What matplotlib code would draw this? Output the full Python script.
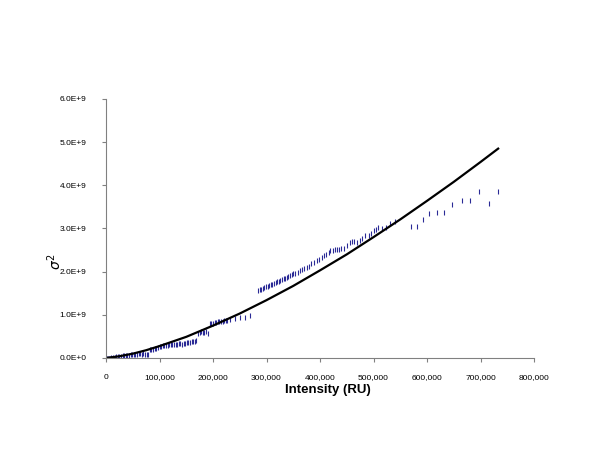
import matplotlib
matplotlib.use("Agg")
import matplotlib.pyplot as plt
from matplotlib.ticker import FuncFormatter

plt.rcParams['font.family'] = ['Liberation Sans', 'DejaVu Sans']

# measured variance points (intensity in thousands RU, variance in 1e9)
pts_x = [0, 2, 4, 6, 8, 10, 13, 16, 19, 22, 25, 28, 31, 34, 37, 40, 43, 46, 49, 52,
         55, 58, 61, 64, 67, 70, 73, 76, 79, 82, 85, 88, 91, 94, 97, 100, 103, 106, 109, 112,
         115, 118, 121, 124, 127, 130, 133, 136, 139, 142, 145, 148, 151, 154, 157, 160, 163, 166, 169,
         172, 175, 178, 181, 184, 187, 190,
         194, 197, 200, 203, 206, 209, 212, 215, 218, 221, 224, 227,
         232, 241, 250, 260, 269,
         284, 287, 290, 293, 296, 299, 302, 305, 308, 311, 314, 317, 320, 323, 326, 329, 332, 335,
         338, 341, 344, 347, 350, 354, 358, 363, 367, 371, 375, 380, 384, 389, 394, 398, 403, 408,
         412, 416, 419, 424, 428, 432, 436, 440, 444, 450, 456, 460, 464, 470, 475, 479, 485, 492,
         496, 501, 505, 509, 516, 523, 531, 541,
         571, 581, 593, 604, 618, 632, 647, 665, 680, 697, 715, 733]
pts_y = [0.0, 0.0, 0.01, 0.01, 0.01, 0.02, 0.03, 0.03, 0.04, 0.04, 0.05, 0.05, 0.06, 0.07, 0.07, 0.08, 0.08, 0.09, 0.09, 0.1,
         0.1, 0.1, 0.11, 0.11, 0.1, 0.11, 0.1, 0.09, 0.1, 0.2, 0.21, 0.2, 0.22, 0.24, 0.25, 0.27, 0.28, 0.3, 0.3, 0.31,
         0.31, 0.32, 0.32, 0.33, 0.32, 0.33, 0.33, 0.34, 0.34, 0.33, 0.35, 0.35, 0.37, 0.38, 0.38, 0.39, 0.4, 0.4, 0.41,
         0.57, 0.6, 0.62, 0.61, 0.6, 0.62, 0.58,
         0.8, 0.81, 0.82, 0.83, 0.84, 0.85, 0.85, 0.86, 0.86, 0.87, 0.88, 0.89,
         0.9, 0.92, 0.94, 0.96, 1.0,
         1.57, 1.59, 1.6, 1.62, 1.64, 1.66, 1.67, 1.69, 1.71, 1.72, 1.74, 1.76, 1.78, 1.79, 1.81, 1.83, 1.85, 1.86,
         1.88, 1.9, 1.92, 1.94, 1.96, 1.98, 2.0, 2.04, 2.06, 2.08, 2.11, 2.14, 2.19, 2.22, 2.27, 2.3, 2.34, 2.38,
         2.42, 2.46, 2.5, 2.51, 2.52, 2.53, 2.53, 2.54, 2.55, 2.62, 2.69, 2.7, 2.71, 2.69, 2.74, 2.77, 2.85, 2.86,
         2.9, 2.96, 2.98, 3.04, 3.02, 3.04, 3.12, 3.18,
         3.06, 3.06, 3.21, 3.36, 3.39, 3.39, 3.56, 3.66, 3.66, 3.87, 3.6, 3.87]

# fitted curve
fit_x = [0, 25, 50, 75, 100, 150, 200, 250, 300, 350, 400, 450, 500, 550, 600, 650, 700, 733]
fit_y = [0.0, 0.04, 0.10, 0.18, 0.276, 0.49, 0.75, 1.03, 1.34, 1.67, 2.03, 2.40, 2.80, 3.21, 3.64, 4.08, 4.54, 4.85]

px = [v * 1000 for v in pts_x]
py = [v * 1e9 for v in pts_y]
fx = [v * 1000 for v in fit_x]
fy = [v * 1e9 for v in fit_y]

fig = plt.figure(figsize=(6, 4.63), dpi=100)
ax = fig.add_axes([0.1767, 0.2268, 0.7133, 0.5594])

ax.plot(px, py, linestyle='none', marker='|', markersize=3.6, markeredgewidth=0.8, color='#2a2a96')
ax.plot(fx, fy, color='black', linewidth=1.6)

ax.set_xlim(0, 800000)
ax.set_ylim(0, 6e9)
ax.set_xticks(range(0, 800001, 100000))
ax.set_yticks([i * 1e9 for i in range(7)])
ax.xaxis.set_major_formatter(FuncFormatter(lambda v, p: '{:,.0f}'.format(v)))
ax.yaxis.set_major_formatter(FuncFormatter(lambda v, p: '0.0E+0' if v == 0 else '{:.1f}E+9'.format(v / 1e9)))

for s in ['top', 'right']:
    ax.spines[s].set_visible(False)
for s in ['left', 'bottom']:
    ax.spines[s].set_color('#808080')
    ax.spines[s].set_linewidth(0.8)
ax.tick_params(axis='both', direction='out', length=3, width=0.8, color='#808080', labelsize=6)
ax.tick_params(axis='y', pad=11)
ax.tick_params(axis='x', pad=8.5)

ax.set_xlabel('Intensity (RU)', fontsize=9.5, fontweight='bold')
ax.xaxis.set_label_coords(0.519, -0.102)
ax.set_ylabel(r'$\sigma^2$', fontsize=10, va='center')
ax.yaxis.set_label_coords(-0.119, 0.37)

fig.savefig('out.png', dpi=100)
